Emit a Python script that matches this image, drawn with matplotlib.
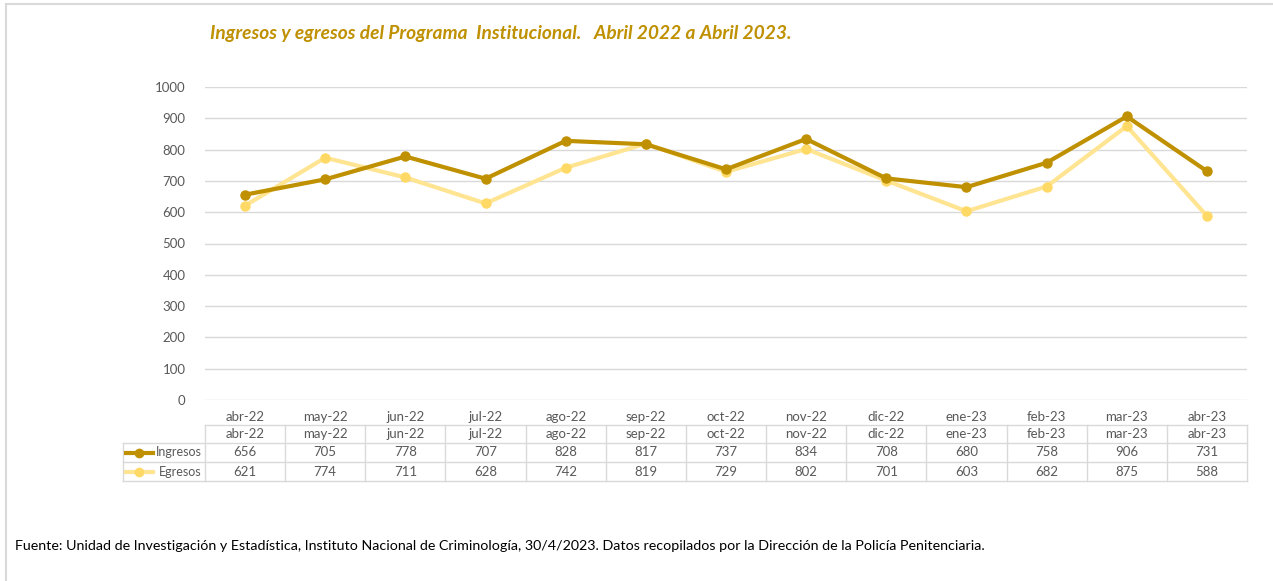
import matplotlib.pyplot as plt
from matplotlib.lines import Line2D
import matplotlib.transforms as mtransforms

plt.rcParams['font.family'] = ['Lato', 'DejaVu Sans']

meses = ["abr-22", "may-22", "jun-22", "jul-22", "ago-22", "sep-22", "oct-22",
         "nov-22", "dic-22", "ene-23", "feb-23", "mar-23", "abr-23"]
ingresos = [656, 705, 778, 707, 828, 817, 737, 834, 708, 680, 758, 906, 731]
egresos = [621, 774, 711, 628, 742, 819, 729, 802, 701, 603, 682, 875, 588]

series = [("Ingresos", ingresos, "#BF9000", "#BF9000"),
          ("Egresos", egresos, "#FFE491", "#FFD966")]

gris = "#595959"
borde = "#D9D9D9"

fig = plt.figure(figsize=(12.73, 5.81), dpi=100)
ax = fig.add_axes([205 / 1273, 1 - 400 / 581, 1042 / 1273, 313 / 581])

x = list(range(len(meses)))
# Egresos first so Ingresos is on top
for nombre, vals, c, mc in reversed(series):
    ax.plot(x, vals, color=c, lw=3, marker='o', ms=6.5, mfc=mc, mec=mc,
            solid_capstyle='round', zorder=3)

ax.set_xlim(-0.5, len(meses) - 0.5)
ax.set_ylim(0, 1000)
ax.set_yticks(range(0, 1001, 100))
ax.yaxis.grid(True, color=borde, lw=1)
ax.set_axisbelow(True)
for s in ax.spines.values():
    s.set_visible(False)
ax.tick_params(axis='y', length=0, labelsize=9.5, labelcolor=gris, pad=14)
ax.set_xticks(x)
ax.set_xticklabels(meses)
ax.tick_params(axis='x', length=0, labelsize=9.5, labelcolor=gris, pad=8)

# data table below the plot
trans = mtransforms.blended_transform_factory(ax.transData, ax.transAxes)
def ypx(p):
    return (400 - p) / 313

unidad = 1042 / 13
filas = [425, 443, 462, 481]
x_leg = (123 - 205) / unidad - 0.5
x_ini = -0.5
x_fin = len(meses) - 0.5

# horizontal lines
ax.add_line(Line2D([x_ini, x_fin], [ypx(filas[0])] * 2, transform=trans,
                   color=borde, lw=1, clip_on=False))
for f in filas[1:]:
    ax.add_line(Line2D([x_leg, x_fin], [ypx(f)] * 2, transform=trans,
                       color=borde, lw=1, clip_on=False))
# vertical lines
for i in range(len(meses) + 1):
    ax.add_line(Line2D([i - 0.5] * 2, [ypx(filas[0]), ypx(filas[3])], transform=trans,
                       color=borde, lw=1, clip_on=False))
ax.add_line(Line2D([x_leg] * 2, [ypx(filas[1]), ypx(filas[3])], transform=trans,
                   color=borde, lw=1, clip_on=False))

# header row
for i, m in enumerate(meses):
    ax.text(i, ypx((filas[0] + filas[1]) / 2), m, transform=trans, ha='center',
            va='center', fontsize=9.5, color=gris)

# series rows
for r, (nombre, vals, c, mc) in enumerate(series):
    yc = ypx((filas[r + 1] + filas[r + 2]) / 2)
    for i, v in enumerate(vals):
        ax.text(i, yc, str(v), transform=trans, ha='center', va='center',
                fontsize=9.5, color=gris)
    ax.add_line(Line2D([x_leg + 3 / unidad, x_leg + 30 / unidad], [yc, yc],
                       transform=trans, color=c, lw=3, clip_on=False))
    ax.add_line(Line2D([x_leg + 16 / unidad], [yc], transform=trans, marker='o', ms=6,
                       mfc=mc, mec=mc, clip_on=False))
    ax.text(-0.5 - 3 / unidad, yc, nombre, transform=trans, ha='right', va='center',
            fontsize=9, color=gris)

# title and source
fig.text(210 / 1273, 1 - 33 / 581, "Ingresos y egresos del Programa  Institucional.   Abril 2022 a Abril 2023.",
         fontsize=13.8, fontweight='bold', fontstyle='italic', color="#BF9000",
         ha='left', va='center')
fig.text(15 / 1273, 1 - 546 / 581,
         "Fuente: Unidad de Investigación y Estadística, Instituto Nacional de Criminología, 30/4/2023. "
         "Datos recopilados por la Dirección de la Policía Penitenciaria.",
         fontsize=10.3, color="black", ha='left', va='center')

# chart frame (top and left visible)
fig.add_artist(Line2D([6 / 1273, 1], [1 - 4 / 581] * 2, transform=fig.transFigure,
                      color=borde, lw=1.5))
fig.add_artist(Line2D([6 / 1273] * 2, [0, 1 - 4 / 581], transform=fig.transFigure,
                      color=borde, lw=1.5))

fig.savefig("out.png", dpi=100)
